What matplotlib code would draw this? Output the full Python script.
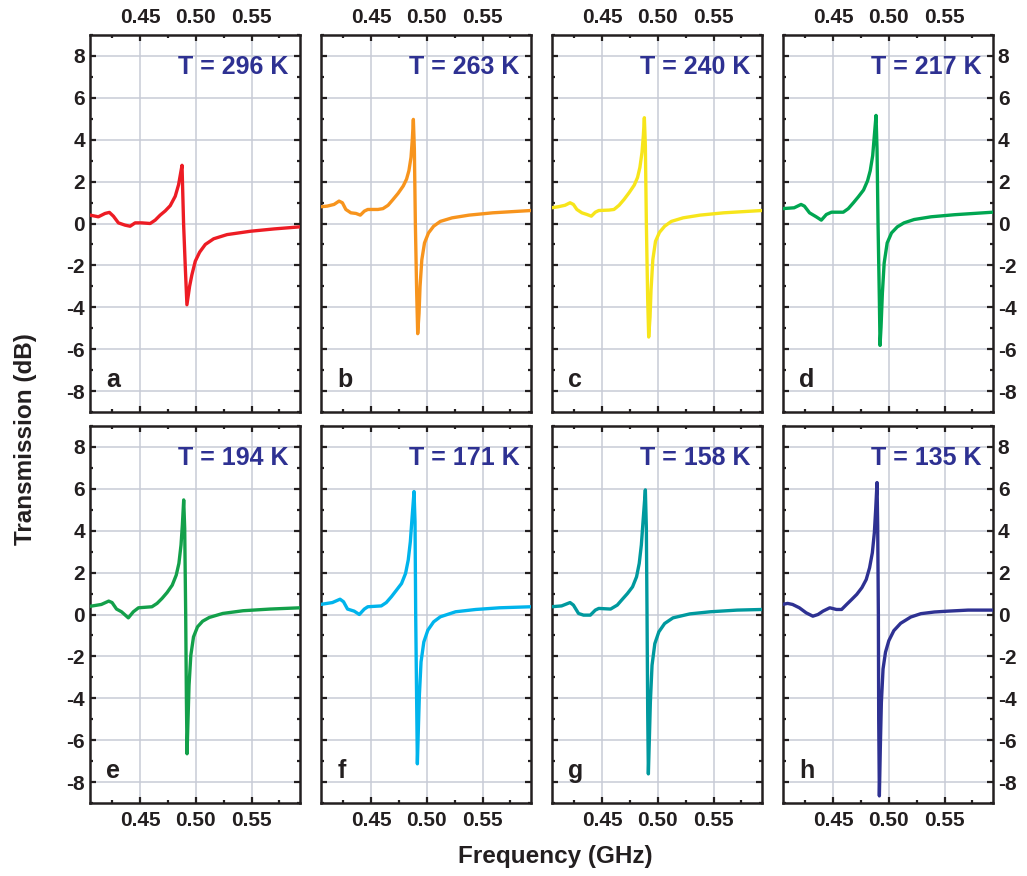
"""Transmission spectra at eight temperatures, 2x4 panel grid.

Values are traced by eye from the published figure.
"""

import matplotlib.pyplot as plt
from matplotlib.ticker import MultipleLocator

# temperatures (K), panel letters and line colours, in panel order a..h
temps = [296, 263, 240, 217, 194, 171, 158, 135]
letters = ["a", "b", "c", "d", "e", "f", "g", "h"]
colors = ["#ed1c24", "#f7941d", "#f7e51b", "#00a651",
          "#13a04a", "#00b4ec", "#00999e", "#2e3192"]

# frequency (GHz) / transmission (dB) per panel
freq_a = [0.405, 0.4125, 0.4185, 0.4224, 0.426, 0.4305, 0.4365, 0.441, 0.4455,
          0.4515, 0.459, 0.4635, 0.468, 0.4725, 0.477, 0.4815, 0.4845, 0.486,
          0.4876, 0.489, 0.4905, 0.492, 0.4944, 0.4965, 0.4995, 0.5034, 0.5085,
          0.516, 0.528, 0.549, 0.57, 0.5934]
trans_a = [0.40, 0.32, 0.48, 0.53, 0.35, 0.03, -0.08, -0.13, 0.03,
           0.03, 0.0, 0.16, 0.4, 0.6, 0.85, 1.3, 1.85, 2.3,
           2.78, 0.0, -2.04, -3.88, -3.0, -2.44, -1.80, -1.37, -1.0,
           -0.73, -0.53, -0.37, -0.26, -0.16]

freq_b = [0.405, 0.4106, 0.4167, 0.4212, 0.4242, 0.4273, 0.4318, 0.4364, 0.4403,
          0.4439, 0.447, 0.4561, 0.4606, 0.4652, 0.4697, 0.4742, 0.4788, 0.4818,
          0.4839, 0.4858, 0.487, 0.4879, 0.4888, 0.4897, 0.4909, 0.4918, 0.493,
          0.4939, 0.4955, 0.4979, 0.5015, 0.5061, 0.5121, 0.5227, 0.5379, 0.5591,
          0.5935]
trans_b = [0.8, 0.83, 0.91, 1.07, 0.99, 0.67, 0.51, 0.48, 0.40,
           0.59, 0.67, 0.67, 0.71, 0.87, 1.15, 1.44, 1.79, 2.12,
           2.52, 3.16, 4.04, 4.97, 3.56, 0.0, -3.33, -5.26, -4.29,
           -3.01, -1.73, -0.93, -0.45, -0.13, 0.10, 0.27, 0.40, 0.51,
           0.62]

freq_c = [0.4045, 0.4106, 0.4167, 0.4212, 0.4242, 0.4273, 0.4318, 0.4364, 0.4403,
          0.4439, 0.447, 0.4561, 0.4606, 0.4652, 0.4697, 0.4742, 0.4788, 0.4818,
          0.4839, 0.4858, 0.487, 0.4879, 0.4888, 0.4897, 0.4909, 0.4918, 0.493,
          0.4939, 0.4955, 0.4979, 0.5015, 0.5061, 0.5121, 0.5227, 0.5379, 0.5591,
          0.5935]
trans_c = [0.75, 0.8, 0.87, 0.99, 0.91, 0.67, 0.51, 0.43, 0.35,
           0.54, 0.62, 0.64, 0.67, 0.87, 1.15, 1.47, 1.83, 2.2,
           2.68, 3.40, 4.2, 5.05, 3.72, 0.0, -3.65, -5.42, -4.46,
           -3.17, -1.73, -0.85, -0.42, -0.13, 0.10, 0.27, 0.40, 0.51,
           0.62]

freq_d = [0.4045, 0.415, 0.4212, 0.4242, 0.4288, 0.4348, 0.4394, 0.4439, 0.4485,
          0.4591, 0.4636, 0.4682, 0.4727, 0.4773, 0.4809, 0.4833, 0.4855, 0.487,
          0.4885, 0.4894, 0.4903, 0.4915, 0.4921, 0.493, 0.4942, 0.4958, 0.4985,
          0.5024, 0.5076, 0.5136, 0.5227, 0.5379, 0.5591, 0.5935]
trans_d = [0.71, 0.75, 0.91, 0.83, 0.51, 0.32, 0.16, 0.43, 0.54,
           0.54, 0.71, 0.99, 1.28, 1.6, 2.04, 2.52, 3.24, 4.2,
           5.16, 3.56, 0.0, -3.65, -5.82, -4.94, -3.33, -1.89, -0.93,
           -0.45, -0.16, 0.03, 0.19, 0.32, 0.42, 0.54]

freq_e = [0.4061, 0.4152, 0.4218, 0.4248, 0.4288, 0.4333, 0.4394, 0.4439, 0.4485,
          0.4606, 0.4652, 0.4697, 0.4742, 0.4788, 0.4824, 0.4848, 0.4867, 0.4879,
          0.4891, 0.4900, 0.4909, 0.4915, 0.4921, 0.4930, 0.4939, 0.4955, 0.4979,
          0.5015, 0.5061, 0.5121, 0.5242, 0.5424, 0.5667, 0.5935]
trans_e = [0.40, 0.48, 0.64, 0.57, 0.26, 0.13, -0.16, 0.13, 0.32,
           0.37, 0.53, 0.77, 1.05, 1.40, 1.88, 2.44, 3.32, 4.27,
           5.47, 4.11, 0.0, -3.86, -6.65, -4.98, -3.38, -1.95, -1.07,
           -0.59, -0.32, -0.14, 0.05, 0.18, 0.26, 0.32]

freq_f = [0.4045, 0.4152, 0.4221, 0.4252, 0.4288, 0.4348, 0.4394, 0.4439, 0.447,
          0.4591, 0.4636, 0.4682, 0.4727, 0.4773, 0.4809, 0.4833, 0.4852, 0.4867,
          0.4885, 0.4894, 0.4900, 0.4909, 0.4915, 0.4924, 0.4933, 0.4948, 0.4973,
          0.5009, 0.5061, 0.5121, 0.5258, 0.5439, 0.5652, 0.5935]
trans_f = [0.48, 0.57, 0.73, 0.61, 0.26, 0.16, 0.0, 0.26, 0.37,
           0.41, 0.57, 0.85, 1.16, 1.48, 1.96, 2.6, 3.48, 4.59,
           5.87, 4.43, 0.0, -4.34, -7.13, -5.45, -3.86, -2.26, -1.31,
           -0.75, -0.35, -0.11, 0.13, 0.24, 0.32, 0.37]

freq_g = [0.4045, 0.4136, 0.4212, 0.4242, 0.4288, 0.4333, 0.4394, 0.4439, 0.447,
          0.4576, 0.4636, 0.4682, 0.4727, 0.4773, 0.4809, 0.4833, 0.4852, 0.4867,
          0.4888, 0.4897, 0.4903, 0.4909, 0.4915, 0.4924, 0.4933, 0.4948, 0.4973,
          0.5009, 0.5061, 0.5136, 0.5288, 0.547, 0.5712, 0.5935]
trans_g = [0.37, 0.41, 0.57, 0.45, 0.05, -0.03, -0.03, 0.21, 0.29,
           0.26, 0.45, 0.73, 1.0, 1.32, 1.80, 2.44, 3.32, 4.43,
           5.95, 4.11, 0.0, -4.66, -7.61, -5.93, -4.18, -2.42, -1.39,
           -0.83, -0.43, -0.16, 0.03, 0.13, 0.21, 0.24]

freq_h = [0.4045, 0.4091, 0.4136, 0.4197, 0.4258, 0.4318, 0.4364, 0.4409, 0.447,
          0.453, 0.4576, 0.4621, 0.4667, 0.4712, 0.4758, 0.4797, 0.4827, 0.4852,
          0.487, 0.4882, 0.4894, 0.4900, 0.4906, 0.4909, 0.4915, 0.4924, 0.4933,
          0.4948, 0.497, 0.500, 0.5045, 0.5106, 0.5197, 0.5288, 0.5409, 0.553,
          0.5712, 0.5935]
trans_h = [0.48, 0.53, 0.48, 0.32, 0.08, -0.08, 0.0, 0.16, 0.32,
           0.24, 0.24, 0.48, 0.72, 0.96, 1.28, 1.67, 2.23, 2.95,
           3.91, 5.02, 6.3, 4.23, 0.0, -4.99, -8.66, -6.27, -4.2,
           -2.6, -1.8, -1.25, -0.77, -0.42, -0.12, 0.04, 0.12, 0.16,
           0.21, 0.21]

freqs = [freq_a, freq_b, freq_c, freq_d, freq_e, freq_f, freq_g, freq_h]
trans = [trans_a, trans_b, trans_c, trans_d, trans_e, trans_f, trans_g, trans_h]

x_ticks = [0.45, 0.50, 0.55]
x_ticklabels = ["0.45", "0.50", "0.55"]
y_ticks = [-8, -6, -4, -2, 0, 2, 4, 6, 8]

XLIM = (0.405, 0.5935)
YLIM = (-9, 9)
TXT = "#231f20"
LABEL_BLUE = "#2e3192"
GRID = "#c8cbd6"


def style_axes(ax, row, col):
    ax.set_xlim(*XLIM)
    ax.set_ylim(*YLIM)
    ax.set_xticks(x_ticks)
    ax.set_xticklabels(x_ticklabels)
    ax.set_yticks(y_ticks)
    ax.xaxis.set_minor_locator(MultipleLocator(0.025))
    ax.yaxis.set_minor_locator(MultipleLocator(1))
    ax.grid(which="major", color=GRID, linewidth=1.1, zorder=0)
    ax.set_axisbelow(True)
    for sp in ax.spines.values():
        sp.set_linewidth(1.8)
        sp.set_color(TXT)
    ax.tick_params(which="both", direction="in", top=True, right=True,
                   bottom=True, left=True, width=1.6, color=TXT,
                   labelsize=15, labelcolor=TXT)
    ax.tick_params(which="major", length=4)
    ax.tick_params(which="minor", length=2.5)
    ax.tick_params(axis="x", which="major", pad=6)
    ax.tick_params(axis="y", which="major", pad=3.5)
    ax.tick_params(labeltop=(row == 0), labelbottom=(row == 1),
                   labelleft=(col == 0), labelright=(col == 3))
    for lab in ax.get_xticklabels() + ax.get_yticklabels():
        lab.set_fontweight("bold")


def main():
    plt.rcParams.update({"font.family": ["Liberation Sans", "DejaVu Sans"],
                         "axes.unicode_minus": False,
                         "figure.facecolor": "white"})
    fig = plt.figure(figsize=(10.27, 8.76), dpi=100)

    left0, width, step = 90 / 1027, 210 / 1027, 231 / 1027
    bottoms = [1 - 412 / 876, 1 - 803 / 876]
    height = 377 / 876

    for i in range(8):
        row, col = divmod(i, 4)
        ax = fig.add_axes([left0 + col * step, bottoms[row], width, height])
        ax.plot(freqs[i], trans[i], color=colors[i], linewidth=2.4,
                solid_joinstyle="round", zorder=3)
        style_axes(ax, row, col)
        ax.text(0.5835, 7.45, f"T = {temps[i]} K", ha="right", va="center",
                fontsize=18, fontweight="bold", color=LABEL_BLUE)
        ax.text(0.4195, -7.8, letters[i], ha="left", va="baseline",
                fontsize=18, fontweight="bold", color=TXT)

    fig.text(0.025, 1 - 439 / 876, "Transmission (dB)", rotation=90,
             ha="center", va="center", fontsize=17.5, fontweight="bold", color=TXT)
    fig.text(555 / 1027, 1 - 857 / 876, "Frequency (GHz)", ha="center",
             va="center", fontsize=17.5, fontweight="bold", color=TXT)

    fig.savefig("out.png", dpi=100)


if __name__ == "__main__":
    main()
